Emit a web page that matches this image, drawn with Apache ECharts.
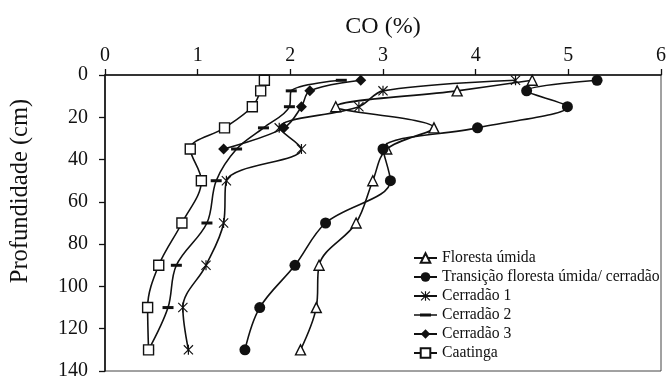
<!DOCTYPE html>
<html>
<head>
<meta charset="utf-8">
<script src="https://cdn.jsdelivr.net/npm/echarts@6/dist/echarts.min.js"></script>
<style>html,body{margin:0;padding:0;background:#fff}#c{width:669px;height:381px}</style>
</head>
<body>
<div id="c"></div>
<script>
var depths = [2.5, 7.5, 15, 25, 35, 50, 70, 90, 110, 130];
var xTicks = [0, 1, 2, 3, 4, 5, 6];
var yTicks = [0, 20, 40, 60, 80, 100, 120, 140];
var seriesNames = ['Floresta úmida', 'Transição floresta úmida/ cerradão', 'Cerradão 1', 'Cerradão 2', 'Cerradão 3', 'Caatinga'];
var florestaUmida = [4.61, 3.80, 2.49, 3.55, 3.04, 2.89, 2.71, 2.31, 2.28, 2.11];
var transicao = [5.31, 4.55, 4.99, 4.02, 3.00, 3.08, 2.38, 2.05, 1.67, 1.51];
var cerradao1 = [4.43, 3.00, 2.74, 1.88, 2.12, 1.31, 1.28, 1.09, 0.84, 0.90];
var cerradao2 = [2.55, 2.01, 1.99, 1.71, 1.42, 1.20, 1.10, 0.77, 0.68, 0.47];
var cerradao3 = [2.76, 2.21, 2.12, 1.93, 1.28];
var caatinga = [1.72, 1.68, 1.59, 1.29, 0.92, 1.04, 0.83, 0.58, 0.46, 0.47];

var FONT = '"Liberation Serif", "Times New Roman", serif';
var asterisk = 'path://M4.4,0H5.6V10H4.4Z M0,0.8L0.8,0L10,9.2L9.2,10Z M10,0.8L0.8,10L0,9.2L9.2,0Z';
var dash = 'path://M0,0H10V3H0Z';
var dashLegend = 'path://M0,0.75H23V2.25H0Z M6,0H17V3H6Z';

function pts(vals) {
  return vals.map(function (v, i) { return [v, depths[i]]; });
}
function mk(name, vals, symbol, size, open) {
  return {
    name: name,
    type: 'line',
    data: pts(vals),
    smooth: 0.35,
    symbol: symbol,
    symbolSize: size,
    showAllSymbol: true,
    lineStyle: { color: '#111', width: 1.6 },
    itemStyle: open ? { color: '#fff', borderColor: '#111', borderWidth: 1.4 } : { color: '#111', borderWidth: 0 },
    emphasis: { disabled: true },
    z: 2
  };
}

var legendData = seriesNames.map(function (n, i) {
  return i === 3 ? { name: n, icon: dashLegend, itemStyle: { color: '#111' } } : { name: n };
});

var chart = echarts.init(document.getElementById('c'), null, { renderer: 'canvas' });
chart.setOption({
  animation: false,
  backgroundColor: '#fff',
  textStyle: { fontFamily: FONT },
  grid: { left: 104, right: 7, top: 75, bottom: 5, show: true, borderColor: '#444', borderWidth: 1, backgroundColor: 'transparent' },
  xAxis: {
    type: 'value', position: 'top', min: xTicks[0], max: xTicks[xTicks.length - 1], interval: 1,
    name: 'CO (%)', nameLocation: 'middle', nameGap: 36,
    nameTextStyle: { fontFamily: FONT, fontSize: 24, color: '#111' },
    axisLine: { show: true, lineStyle: { color: '#111', width: 1.6 } },
    axisTick: { show: true, inside: false, length: 6, lineStyle: { color: '#111', width: 1.3 } },
    axisLabel: { fontFamily: FONT, fontSize: 20, color: '#111', margin: 9 },
    splitLine: { show: false }
  },
  yAxis: {
    type: 'value', inverse: true, min: yTicks[0], max: yTicks[yTicks.length - 1], interval: 20,
    name: 'Profundidade (cm)', nameLocation: 'middle', nameGap: 72, nameRotate: 90,
    nameTextStyle: { fontFamily: FONT, fontSize: 24.5, color: '#111', padding: [0, 0, 0, 64] },
    axisLine: { show: true, lineStyle: { color: '#111', width: 1.6 } },
    axisTick: { show: true, inside: false, length: 6, lineStyle: { color: '#111', width: 1.3 } },
    axisLabel: { fontFamily: FONT, fontSize: 20, color: '#111', margin: 17 },
    splitLine: { show: false }
  },
  legend: {
    orient: 'vertical', left: 413, top: 250, padding: 0,
    itemWidth: 23, itemHeight: 12, itemGap: 3,
    symbolKeepAspect: true,
    textStyle: { fontFamily: FONT, fontSize: 15.7, color: '#111' },
    data: legendData,
    selectedMode: false
  },
  series: [
    mk(seriesNames[0], florestaUmida, 'triangle', 10, true),
    mk(seriesNames[1], transicao, 'circle', 11, false),
    mk(seriesNames[2], cerradao1, asterisk, 10, false),
    mk(seriesNames[3], cerradao2, dash, [11, 3], false),
    mk(seriesNames[4], cerradao3, 'diamond', 11, false),
    mk(seriesNames[5], caatinga, 'rect', 10, true)
  ]
});
</script>
</body>
</html>
